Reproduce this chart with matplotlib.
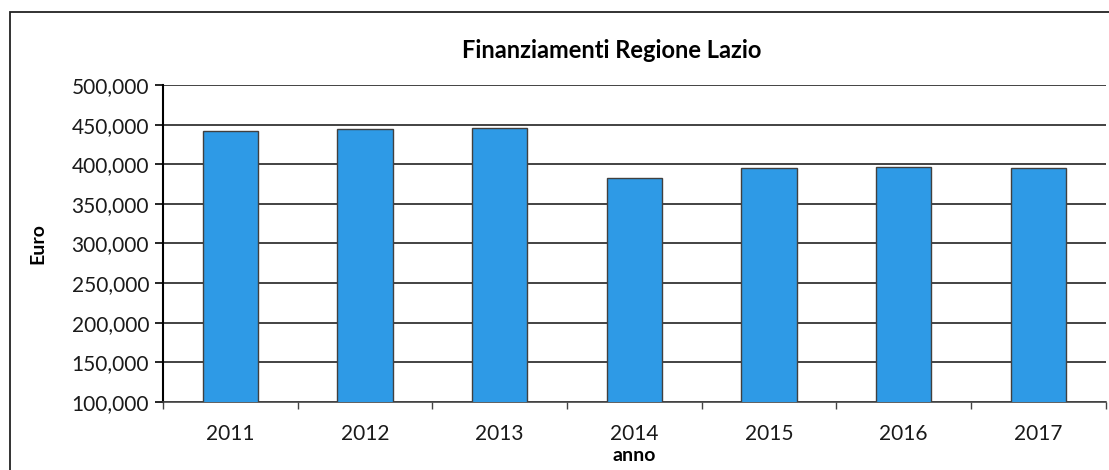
import matplotlib.pyplot as plt
from matplotlib.patches import Rectangle
from matplotlib.ticker import FuncFormatter, FixedLocator

plt.rcParams['font.family'] = ['Lato', 'DejaVu Sans']

anni = ['2011', '2012', '2013', '2014', '2015', '2016', '2017']
finanziamenti = [442000, 444000, 445500, 383000, 395500, 396500, 395000]

fig = plt.figure(figsize=(11.09, 4.70), dpi=100)
ax = fig.add_axes([0.147, 0.145, 0.850, 0.674])

x = list(range(len(anni)))
ax.bar(x, finanziamenti, width=0.41, bottom=0, color='#2e9ae6',
       edgecolor='#404040', linewidth=1.0, zorder=3)

ax.set_xlim(-0.5, len(anni) - 0.5)
ax.set_ylim(100000, 500000)
ax.set_yticks(range(100000, 500001, 50000))
ax.yaxis.set_major_formatter(FuncFormatter(lambda v, p: f'{int(v):,}'))
ax.grid(axis='y', color='#222222', linewidth=1.2, zorder=1)

ax.set_xticks(x)
ax.set_xticklabels(anni)
ax.xaxis.set_minor_locator(FixedLocator([i - 0.5 for i in range(len(anni) + 1)]))
ax.tick_params(axis='x', which='major', length=0, pad=16, labelsize=15, labelcolor='#1a1a1a')
ax.tick_params(axis='x', which='minor', length=5, width=1, color='#444444')
ax.tick_params(axis='y', length=6, width=1.2, labelsize=15, pad=4, labelcolor='#1a1a1a')

for s in ['top', 'right']:
    ax.spines[s].set_visible(False)
ax.spines['left'].set_linewidth(1.5)
ax.spines['bottom'].set_linewidth(1.2)
ax.spines['bottom'].set_color('#444444')

ax.set_xlabel('anno', fontsize=14, fontweight='bold', labelpad=2)
ax.set_ylabel('Euro', fontsize=14, fontweight='bold', labelpad=18)

fig.text(0.552, 0.893, 'Finanziamenti Regione Lazio', ha='center', va='center',
         fontsize=17, fontweight='bold')

fig.patches.append(Rectangle((0.009, -0.02), 1.0, 0.994, transform=fig.transFigure,
                             fill=False, edgecolor='#222222', linewidth=1.3))

fig.savefig('out.png', dpi=100)
